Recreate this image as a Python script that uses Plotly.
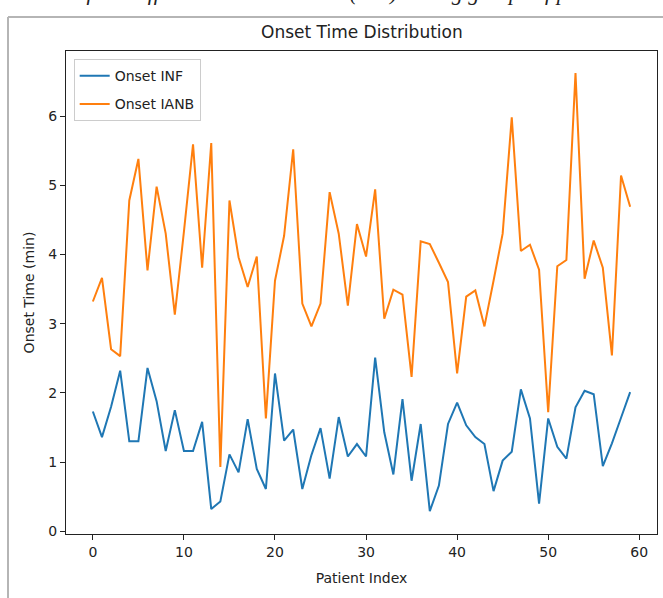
import plotly.graph_objects as go

patient_index = list(range(60))

onset_inf = [1.73, 1.36, 1.80, 2.32, 1.30, 1.30, 2.36, 1.88, 1.16, 1.75,
             1.16, 1.16, 1.58, 0.32, 0.43, 1.11, 0.85, 1.62, 0.90, 0.61,
             2.28, 1.31, 1.47, 0.61, 1.10, 1.49, 0.76, 1.65, 1.08, 1.26,
             1.08, 2.51, 1.43, 0.82, 1.91, 0.73, 1.55, 0.29, 0.66, 1.55,
             1.86, 1.53, 1.36, 1.26, 0.58, 1.02, 1.15, 2.05, 1.63, 0.40,
             1.63, 1.22, 1.05, 1.79, 2.03, 1.98, 0.94, 1.27, 1.64, 2.01]

onset_ianb = [3.32, 3.66, 2.63, 2.53, 4.78, 5.38, 3.77, 4.98, 4.30, 3.13,
              4.33, 5.59, 3.81, 5.61, 0.93, 4.78, 3.96, 3.53, 3.97, 1.63,
              3.62, 4.27, 5.52, 3.29, 2.96, 3.29, 4.90, 4.30, 3.26, 4.44,
              3.97, 4.94, 3.07, 3.49, 3.42, 2.23, 4.19, 4.15, 3.88, 3.60,
              2.28, 3.39, 3.48, 2.96, 3.62, 4.30, 5.98, 4.05, 4.14, 3.78,
              1.72, 3.83, 3.92, 6.62, 3.65, 4.20, 3.81, 2.54, 5.14, 4.69]

x_ticks = [0, 10, 20, 30, 40, 50, 60]
y_ticks = [0, 1, 2, 3, 4, 5, 6]

FONT = "DejaVu Sans, Arial, sans-serif"

fig = go.Figure()
fig.add_trace(go.Scatter(x=patient_index, y=onset_inf, mode="lines", name="Onset INF",
                         legendgroup="a", line=dict(color="#1f77b4", width=2)))
fig.add_trace(go.Scatter(x=patient_index, y=onset_ianb, mode="lines", name="Onset IANB",
                         legendgroup="b", line=dict(color="#ff7f0e", width=2)))

W, H = 663, 598
L, R, T, B = 66, 6, 51, 64
ph = H - T - B
pw = W - L - R

fig.update_layout(
    width=W, height=H,
    margin=dict(l=L, r=R, t=T, b=B),
    paper_bgcolor="white", plot_bgcolor="white",
    font=dict(family=FONT, size=14, color="#222"),
    showlegend=True,
    legend=dict(x=0.013, y=0.983, xanchor="left", yanchor="top",
                bgcolor="rgba(255,255,255,0.8)", bordercolor="#cccccc", borderwidth=1,
                font=dict(size=14, color="#222"), tracegroupgap=7),
    xaxis=dict(range=[-2.95, 61.95], tickvals=x_ticks, ticks="outside", ticklen=5,
               tickcolor="#222", showline=True, linecolor="#222", linewidth=1.2,
               mirror=True, showgrid=False, zeroline=False,
               tickfont=dict(size=14),
               title=dict(text="Patient Index", font=dict(size=14), standoff=14)),
    yaxis=dict(range=[-0.04, 6.94], tickvals=y_ticks, ticks="outside", ticklen=5,
               tickcolor="#222", showline=True, linecolor="#222", linewidth=1.2,
               mirror=True, showgrid=False, zeroline=False,
               tickfont=dict(size=14),
               title=dict(text="Onset Time (min)", font=dict(size=14), standoff=10)),
    annotations=[
        dict(text="Onset Time Distribution", xref="paper", yref="paper",
             x=0.5, y=(H - B - 32) / ph, xanchor="center", yanchor="middle",
             showarrow=False, font=dict(size=17, color="#222")),
        dict(text="Table of the differences in onset time (min) among groups of patients",
             xref="paper", yref="paper", x=(20 - L) / pw, y=(H - B - 7) / ph,
             xanchor="left", yanchor="bottom", showarrow=False,
             font=dict(size=22, family="Liberation Serif, serif", color="#222",
                       style="italic")),
    ],
    shapes=[
        dict(type="line", xref="paper", yref="paper",
             x0=(8 - L) / pw, x1=(8 - L) / pw,
             y0=(H - B - 598) / ph, y1=(H - B - 17) / ph,
             line=dict(color="#b5b5b5", width=2)),
        dict(type="line", xref="paper", yref="paper",
             x0=(8 - L) / pw, x1=(663 - L) / pw,
             y0=(H - B - 17) / ph, y1=(H - B - 17) / ph,
             line=dict(color="#b5b5b5", width=2)),
    ],
)

fig.write_html("out.html")
